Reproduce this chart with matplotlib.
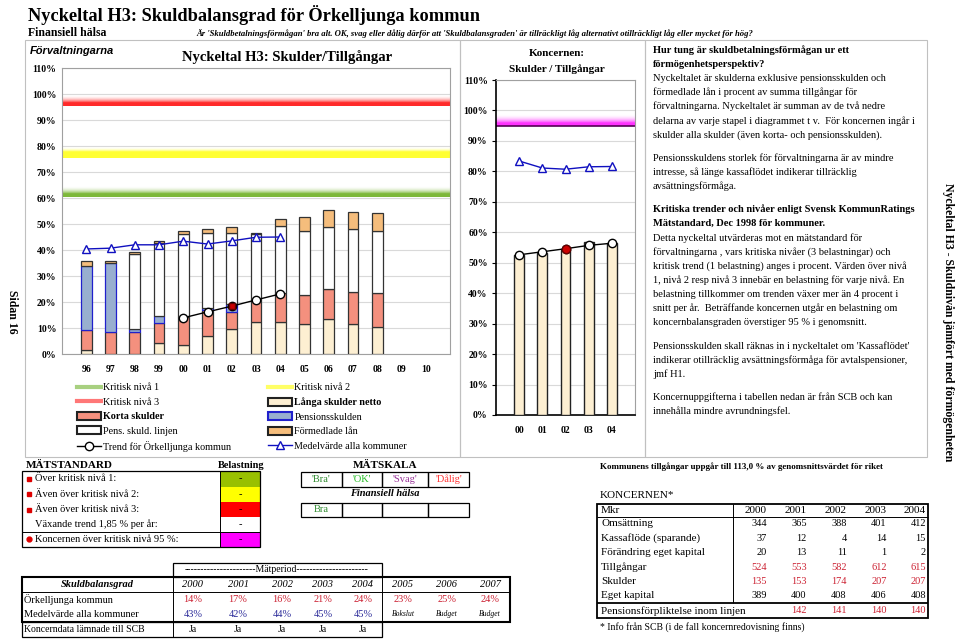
import numpy as np
import matplotlib
matplotlib.use('Agg')
import matplotlib.pyplot as plt
from matplotlib.colors import to_rgb
from matplotlib.patches import Rectangle, Patch
from matplotlib.lines import Line2D

plt.rcParams['font.family'] = ['Liberation Serif', 'DejaVu Serif']

# ---- data: förvaltningarna (stacked bars, %) ----
years = ['96', '97', '98', '99', '00', '01', '02', '03', '04', '05', '06', '07', '08', '09', '10']
langa_skulder = [1.5, 0, 0, 4.2, 3.4, 7.1, 9.7, 12.5, 12.4, 11.7, 13.4, 11.7, 10.2]
korta_skulder = [7.9, 8.3, 8.3, 7.9, 10.8, 9.7, 6.3, 8.7, 11.2, 11.1, 11.5, 12.3, 13.1]
pensionsskuld = [24.4, 26.6, 1.5, 2.7, 0, 0.8, 3.4, 0, 0, 0, 0, 0, 0]
pens_linjen = [0, 0, 28.7, 27.8, 31.8, 29.1, 27.0, 24.8, 25.8, 24.5, 24.0, 24.2, 24.1]
formedlade = [1.8, 1.0, 0.9, 0.7, 1.3, 1.3, 2.3, 0.5, 2.6, 5.4, 6.6, 6.6, 6.7]
trend_years = ['00', '01', '02', '03', '04']
trend_vals = [13.9, 16.2, 18.4, 20.8, 23.1]
medel_years = ['96', '97', '98', '99', '00', '01', '02', '03', '04']
medel_vals = [40.4, 40.7, 42.0, 42.0, 43.4, 42.3, 43.5, 44.9, 45.0]
krit_nivaer = [60, 75, 95]

# ---- data: koncernen ----
kon_years = ['00', '01', '02', '03', '04']
kon_skulder = [52.5, 53.3, 54.1, 56.7, 56.4]
kon_trend = [52.6, 53.6, 54.6, 55.7, 56.4]
kon_medel = [83.4, 81.1, 80.7, 81.5, 81.6]
kon_krit = 95

# ---- data: tables ----
tab_years = ['2000', '2001', '2002', '2003', '2004', '2005', '2006', '2007']
orkelljunga = ['14%', '17%', '16%', '21%', '24%', '23%', '25%', '24%']
medelvarde = ['43%', '42%', '44%', '45%', '45%']
kon_tab_years = ['2000', '2001', '2002', '2003', '2004']
kon_rows = ['Omsättning', 'Kassaflöde (sparande)', 'Förändring eget kapital',
            'Tillgångar', 'Skulder', 'Eget kapital']
kon_vals = [[344, 365, 388, 401, 412],
            [37, 12, 4, 14, 15],
            [20, 13, 11, 1, 2],
            [524, 553, 582, 612, 615],
            [135, 153, 174, 207, 207],
            [389, 400, 408, 406, 408]]
pension_inom = ['', '142', '141', '140', '140']

C_LANGA = '#FDEFD2'
C_KORTA = '#F4907E'
C_PENS = '#98AFCF'
C_FORM = '#F5BD7C'
C_BLUE = '#1010C0'
RED_TXT = '#CC2233'
BLUE_TXT = '#2A2A99'

fig = plt.figure(figsize=(9.6, 6.4), dpi=100)

# background axes in pixel coordinates for page furniture
bg = fig.add_axes([0, 0, 1, 1], zorder=0)
bg.set_xlim(0, 960)
bg.set_ylim(640, 0)
bg.axis('off')


def px_rect(x0, y0, x1, y1, fc='none', ec='black', lw=0.7):
    bg.add_patch(Rectangle((x0, y0), x1 - x0, y1 - y0, facecolor=fc, edgecolor=ec, lw=lw))


def px_line(x0, y0, x1, y1, color='black', lw=0.7):
    bg.plot([x0, x1], [y0, y1], color=color, lw=lw, solid_capstyle='butt')


def band(ax, y0, y1, color, x0, x1, solid=0.35):
    # thick level line that fades out upwards
    n = 80
    t = np.linspace(0, 1, n)
    alpha = np.where(t < solid, 1.0, (1 - (t - solid) / (1 - solid)) ** 2 * 0.85)
    img = np.zeros((n, 1, 4))
    img[..., :3] = to_rgb(color)
    img[:, 0, 3] = alpha
    ax.imshow(img, extent=(x0, x1, y0, y1), aspect='auto', origin='lower',
              interpolation='bilinear', zorder=1)


# titles
bg.text(28, 15, 'Nyckeltal H3: Skuldbalansgrad för Örkelljunga kommun', fontsize=13.2,
        fontweight='bold', va='center')
bg.text(28, 33, 'Finansiell hälsa', fontsize=8.5, fontweight='bold', va='center')
bg.text(196, 33, "Är 'Skuldbetalningsförmågan' bra alt. OK, svag eller dålig därför att "
        "'Skuldbalansgraden' är tillräckligt låg alternativt otillräckligt låg eller mycket för hög?",
        fontsize=6.2, style='italic', fontweight='bold', va='center')

# panel frames
px_rect(25, 40, 460, 457, ec='#C0C0C0', lw=0.8)
px_rect(460, 40, 645, 457, ec='#C0C0C0', lw=0.8)
px_rect(645, 40, 927, 457, ec='#C0C0C0', lw=0.8)

bg.text(30, 51, 'Förvaltningarna', fontsize=8, fontweight='bold', style='italic',
        family='Liberation Sans', va='center')
bg.text(287, 57, 'Nyckeltal H3: Skulder/Tillgångar', fontsize=10.5, fontweight='bold',
        ha='center', va='center')
bg.annotate('', xy=(371, 94), xytext=(371, 69),
            arrowprops=dict(arrowstyle='-|>', color='black', lw=1, mutation_scale=7))
bg.text(380, 77, 'Krav: Under', fontsize=6.8, fontweight='bold', va='center')
bg.text(380, 90, 'kritiska nivåer', fontsize=6.8, fontweight='bold', va='center')
bg.text(12, 312, 'Sidan 16', rotation=270, fontsize=8.5, fontweight='bold', ha='center', va='center')
bg.text(948, 322, 'Nyckeltal H3 - Skuldnivån jämfört med förmögenheten', rotation=270,
        fontsize=8.5, fontweight='bold', ha='center', va='center')

# ---------------- left chart ----------------
ax1 = fig.add_axes([62 / 960, 1 - 354 / 640, 388 / 960, 286 / 640], zorder=1)
x = np.arange(len(years))
band_cols = ['#7DB83A', '#FFFF33', '#FF2A2A']
band_solid = [0.35, 0.6, 0.35]
for lvl, col, sol in zip(krit_nivaer, band_cols, band_solid):
    band(ax1, lvl + 0.5, lvl + 4.5, col, -1, 15, solid=sol)

nb = len(langa_skulder)
bottom = np.zeros(nb)
segments = [(langa_skulder, C_LANGA, '#333333'), (korta_skulder, C_KORTA, '#333333'),
            (pensionsskuld, C_PENS, '#2020CC'), (pens_linjen, 'white', '#333333'),
            (formedlade, C_FORM, '#333333')]
for vals, fc, ec in segments:
    vals = np.array(vals, dtype=float)
    m = vals > 0
    ax1.bar(x[:nb][m], vals[m], bottom=bottom[m], width=0.45, color=fc,
            edgecolor=ec, linewidth=0.9, zorder=3)
    bottom += vals

mx = [years.index(y) for y in medel_years]
ax1.plot(mx, medel_vals, color=C_BLUE, lw=1, marker='^', ms=6, mfc='white',
         mec=C_BLUE, mew=1, zorder=5)
tx = [years.index(y) for y in trend_years]
ax1.plot(tx, trend_vals, color='black', lw=1, marker='o', ms=6, mfc='white',
         mec='black', mew=1, zorder=5)
ax1.plot(tx[2], trend_vals[2], marker='s', ms=5, mfc='#CC0000', mec='#660000', zorder=6)

ax1.set_xlim(-1, 15)
ax1.set_ylim(0, 110)
ax1.set_yticks(np.arange(0, 111, 10))
ax1.set_yticklabels([f'{v}%' for v in range(0, 111, 10)], fontsize=7, fontweight='bold')
ax1.set_xticks(x)
ax1.set_xticklabels(years, fontsize=7, fontweight='bold')
ax1.tick_params(axis='x', length=0, pad=8)
ax1.tick_params(axis='y', length=0, pad=4)
ax1.grid(axis='y', color='#D9D9D9', lw=0.8, zorder=0)
ax1.set_axisbelow(True)
for s in ax1.spines.values():
    s.set_color('#A0A0A0')
    s.set_linewidth(0.8)

handles = [Line2D([], [], color='#A8D080', lw=3),
           Line2D([], [], color='#FF7777', lw=3),
           Patch(facecolor=C_KORTA, edgecolor='#222222', lw=1.5),
           Patch(facecolor='white', edgecolor='#222222', lw=1.5),
           Line2D([], [], color='black', lw=1, marker='o', ms=6, mfc='white'),
           Line2D([], [], color='#FFFF66', lw=3),
           Patch(facecolor=C_LANGA, edgecolor='#222222', lw=1.5),
           Patch(facecolor=C_PENS, edgecolor='#2020CC', lw=1.5),
           Patch(facecolor=C_FORM, edgecolor='#222222', lw=1.5),
           Line2D([], [], color=C_BLUE, lw=1, marker='^', ms=6, mfc='white', mec=C_BLUE)]
labels = ['Kritisk nivå 1', 'Kritisk nivå 3', 'Korta skulder', 'Pens. skuld. linjen',
          'Trend för Örkelljunga kommun', 'Kritisk nivå 2', 'Långa skulder netto',
          'Pensionsskulden', 'Förmedlade lån', 'Medelvärde alla kommuner']
leg = fig.legend(handles, labels, ncol=2, loc='upper left',
                 bbox_to_anchor=(72 / 960, 1 - 378 / 640), frameon=False,
                 fontsize=7.3, handlelength=2.4, handleheight=0.8, handletextpad=0.2,
                 columnspacing=3.6, labelspacing=0.5, borderpad=0)
for t in leg.get_texts():
    if t.get_text() in ('Korta skulder', 'Långa skulder netto'):
        t.set_fontweight('bold')

# ---------------- koncernen chart ----------------
ax2 = fig.add_axes([496 / 960, 1 - 415 / 640, 139 / 960, 335 / 640], zorder=1)
kx = np.arange(len(kon_years))
band(ax2, kon_krit, kon_krit + 3.8, '#FF33FF', -1, 5, solid=0.3)
ax2.axhline(kon_krit, color='#550055', lw=1.2, zorder=2)
ax2.bar(kx, kon_skulder, width=0.43, color=C_LANGA, edgecolor='#222222', lw=1, zorder=3)
ax2.plot(kx, kon_trend, color='black', lw=1, marker='o', ms=6, mfc='white', mec='black', zorder=5)
ax2.plot(kx[2], kon_trend[2], marker='o', ms=6, mfc='#CC0000', mec='#660000', zorder=6)
ax2.plot(kx, kon_medel, color=C_BLUE, lw=1, marker='^', ms=6, mfc='white', mec=C_BLUE, zorder=5)
ax2.set_xlim(-1, 5)
ax2.set_ylim(0, 110)
ax2.set_yticks(np.arange(0, 111, 10))
ax2.set_yticklabels([f'{v}%' for v in range(0, 111, 10)], fontsize=7, fontweight='bold')
ax2.set_xticks(kx)
ax2.set_xticklabels(kon_years, fontsize=7, fontweight='bold')
ax2.tick_params(axis='x', length=0, pad=8)
ax2.tick_params(axis='y', length=3, pad=3, color='black')
ax2.grid(axis='y', color='#D9D9D9', lw=0.8, zorder=0)
ax2.set_axisbelow(True)
for side in ('top', 'right'):
    ax2.spines[side].set_color('#A0A0A0')
for side in ('left', 'bottom'):
    ax2.spines[side].set_color('black')
    ax2.spines[side].set_linewidth(1.2)
bg.text(557, 54, 'Koncernen:', fontsize=8, fontweight='bold', ha='center', va='center')
bg.text(557, 69, 'Skulder / Tillgångar', fontsize=8, fontweight='bold', ha='center', va='center')

# ---------------- right text ----------------
paras = [
    [('Hur tung är skuldbetalningsförmågan ur ett', True),
     ('förmögenhetsperspektiv?', True),
     ('Nyckeltalet är skulderna exklusive pensionsskulden och', False),
     ('förmedlade lån i procent av summa tillgångar för', False),
     ('förvaltningarna. Nyckeltalet är summan av de två nedre', False),
     ('delarna av varje stapel i diagrammet t v.  För koncernen ingår i', False),
     ('skulder alla skulder (även korta- och pensionsskulden).', False)],
    [('Pensionsskuldens storlek för förvaltningarna är av mindre', False),
     ('intresse, så länge kassaflödet indikerar tillräcklig', False),
     ('avsättningsförmåga.', False)],
    [('Kritiska trender och nivåer enligt Svensk KommunRatings', True),
     ('Mätstandard, Dec 1998 för kommuner.', True),
     ('Detta nyckeltal utvärderas mot en mätstandard för', False),
     ('förvaltningarna , vars kritiska nivåer (3 belastningar) och', False),
     ('kritisk trend (1 belastning) anges i procent. Värden över nivå', False),
     ('1, nivå 2 resp nivå 3 innebär en belastning för varje nivå. En', False),
     ('belastning tillkommer om trenden växer mer än 4 procent i', False),
     ('snitt per år.  Beträffande koncernen utgår en belastning om', False),
     ('koncernbalansgraden överstiger 95 % i genomsnitt.', False)],
    [("Pensionsskulden skall räknas in i nyckeltalet om 'Kassaflödet'", False),
     ('indikerar otillräcklig avsättningsförmåga för avtalspensioner,', False),
     ('jmf H1.', False)],
    [('Koncernuppgifterna i tabellen nedan är från SCB och kan', False),
     ('innehålla mindre avrundningsfel.', False)],
]
yy = 50
for para in paras:
    for txt, bold in para:
        bg.text(653, yy, txt, fontsize=7.45, fontweight='bold' if bold else 'normal', va='center')
        yy += 14.15
    yy += 9.0

# ---------------- MÄTSTANDARD table ----------------
bg.text(26, 465, 'MÄTSTANDARD', fontsize=8, fontweight='bold', va='center')
bg.text(241, 465, 'Belastning', fontsize=7.5, fontweight='bold', ha='center', va='center')
rows_y = [471, 486.7, 501.7, 517.3, 531.7, 546.7]
ms_labels = ['Över kritisk nivå 1:', 'Även över kritisk nivå 2:', 'Även över kritisk nivå 3:',
             'Växande trend 1,85 % per år:', 'Koncernen över kritisk nivå 95 %:']
ms_cols = ['#99C000', '#FFFF00', '#FF0000', 'white', '#FF00FF']
for i, (lab, col) in enumerate(zip(ms_labels, ms_cols)):
    y0, y1 = rows_y[i], rows_y[i + 1]
    yc = (y0 + y1) / 2
    px_rect(220, y0, 260, y1, fc=col, ec='none')
    bg.text(240, yc, '-', fontsize=7.5, ha='center', va='center')
    bg.text(35, yc, lab, fontsize=7.5, va='center')
    if i < 3:
        bg.plot(29, yc, marker='s', ms=3.5, color='#DD0000')
    elif i == 4:
        bg.plot(29, yc, marker='o', ms=3.5, color='#DD0000')
px_rect(21.7, 471, 260, 546.7, lw=0.9)
px_line(220, 471, 220, 546.7)
px_line(21.7, 531.7, 260, 531.7)

# ---------------- MÄTSKALA ----------------
bg.text(385, 465, 'MÄTSKALA', fontsize=8, fontweight='bold', ha='center', va='center')
sk_x = [301, 341.7, 382.3, 427.7, 469.3]
sk_lab = ["'Bra'", "'OK'", "'Svag'", "'Dålig'"]
sk_col = ['#2E8B2E', '#22BB22', '#993399', '#FF3333']
for i in range(4):
    px_rect(sk_x[i], 471.7, sk_x[i + 1], 486.7, lw=0.9)
    bg.text((sk_x[i] + sk_x[i + 1]) / 2, 479.2, sk_lab[i], color=sk_col[i], fontsize=7.5,
            ha='center', va='center')
    px_rect(sk_x[i], 502.7, sk_x[i + 1], 517.3, lw=0.9)
bg.text((sk_x[0] + sk_x[1]) / 2, 510, 'Bra', color=sk_col[0], fontsize=7.5, ha='center', va='center')
bg.text(385, 494, 'Finansiell hälsa', fontsize=7.5, fontweight='bold', style='italic',
        ha='center', va='center')

# ---------------- Skuldbalansgrad table ----------------
px_rect(173, 562.7, 381.7, 577.3, lw=0.9)
bg.text(277, 570, '----------------------Mätperiod----------------------', fontsize=7,
        ha='center', va='center')
col_x = [193, 238, 282, 323, 363, 403, 447, 490]
row_c = [584.5, 599.2, 614.5, 629.8]
bg.text(97, row_c[0], 'Skuldbalansgrad', fontsize=7.5, fontweight='bold', style='italic',
        ha='center', va='center')
bg.text(24, row_c[1], 'Örkelljunga kommun', fontsize=7.5, va='center')
bg.text(24, row_c[2], 'Medelvärde alla kommuner', fontsize=7.5, va='center')
bg.text(24, row_c[3], 'Koncerndata lämnade till SCB', fontsize=7, va='center')
for i, yr in enumerate(tab_years):
    bg.text(col_x[i], row_c[0], yr, fontsize=7.5, style='italic', ha='center', va='center')
    bg.text(col_x[i], row_c[1], orkelljunga[i], fontsize=7.5, color=RED_TXT, ha='center', va='center')
for i, v in enumerate(medelvarde):
    bg.text(col_x[i], row_c[2], v, fontsize=7.5, color=BLUE_TXT, ha='center', va='center')
    bg.text(col_x[i], row_c[3], 'Ja', fontsize=7, ha='center', va='center')
for i, v in zip([5, 6, 7], ['Bokslut', 'Budget', 'Budget']):
    bg.text(col_x[i], row_c[2], v, fontsize=5.5, style='italic', ha='center', va='center')
px_rect(21.7, 577.3, 510, 622.3, lw=1.5)
px_rect(21.7, 622.3, 381.7, 637.3, lw=0.9)
px_line(21.7, 591.7, 510, 591.7)
px_line(173, 577.3, 173, 637.3)
px_line(381.7, 577.3, 381.7, 637.3)

# ---------------- KONCERNEN table ----------------
bg.text(600, 466.7, 'Kommunens tillgångar uppgår till 113,0 % av genomsnittsvärdet för riket',
        fontsize=6.5, fontweight='bold', va='center')
bg.text(600, 495, 'KONCERNEN*', fontsize=8, va='center')
k_right = [766.7, 806.7, 846.7, 886.7, 926]
k_rows = [510.5, 523.8, 538.3, 552.8, 567.1, 581.3, 595.8, 610.8]
bg.text(601, k_rows[0], 'Mkr', fontsize=8, va='center')
for j, yr in enumerate(kon_tab_years):
    bg.text(k_right[j], k_rows[0], yr, fontsize=8, ha='right', va='center')
for i, (lab, vals) in enumerate(zip(kon_rows, kon_vals)):
    col = RED_TXT if lab in ('Tillgångar', 'Skulder') else 'black'
    bg.text(601, k_rows[i + 1], lab, fontsize=8, va='center')
    for j, v in enumerate(vals):
        bg.text(k_right[j], k_rows[i + 1], str(v), fontsize=7.5, color=col, ha='right', va='center')
bg.text(601, k_rows[7], 'Pensionsförpliktelse inom linjen', fontsize=8, va='center')
for j, v in enumerate(pension_inom):
    bg.text(k_right[j], k_rows[7], v, fontsize=7.5, color=RED_TXT, ha='right', va='center')
px_rect(596.7, 504.3, 928, 618.3, lw=1.3)
px_line(733, 504.3, 733, 603.3)
px_line(596.7, 516.7, 928, 516.7)
px_line(596.7, 603.3, 928, 603.3, lw=1.3)
bg.text(600, 626.7, '* Info från SCB (i de fall koncernredovisning finns)', fontsize=7, va='center')

fig.savefig('out.png', dpi=100)
